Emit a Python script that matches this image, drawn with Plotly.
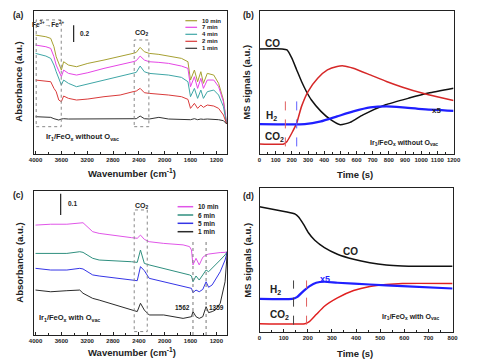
import plotly.graph_objects as go

W, H = 482, 362
FONT = "Liberation Sans, Arial, sans-serif"

# ---------------- data: panel (a) ----------------
wn_a = [4000, 3840, 3765, 3715, 3680, 3640, 3600, 3565, 3490, 3365, 3190, 2940, 2690, 2490,
        2440, 2380, 2315, 2240, 2090, 1940, 1740, 1640, 1600, 1540, 1490, 1440, 1400, 1340,
        1240, 1165, 1090, 1040]
a_10min = [1.428, 1.408, 1.388, 1.288, 1.168, 1.088, 1.008, 1.108, 1.068, 1.048, 1.088, 1.128,
           1.168, 1.208, 1.220, 1.280, 1.228, 1.208, 1.196, 1.176, 1.148, 1.108, 0.888, 1.008,
           0.868, 0.988, 0.848, 0.968, 0.948, 0.848, 0.648, 0.360]
a_7min = [1.308, 1.288, 1.268, 1.168, 1.068, 0.988, 0.928, 1.008, 0.968, 0.948, 0.976, 1.028,
          1.068, 1.108, 1.120, 1.176, 1.128, 1.108, 1.100, 1.088, 1.056, 1.028, 0.808, 0.928,
          0.788, 0.908, 0.788, 0.888, 0.888, 0.808, 0.628, 0.360]
a_4min = [1.208, 1.176, 1.148, 1.068, 0.988, 0.908, 0.828, 0.888, 0.848, 0.808, 0.840, 0.888,
          0.928, 0.968, 0.980, 1.056, 0.988, 0.968, 0.960, 0.948, 0.920, 0.868, 0.688, 0.788,
          0.668, 0.768, 0.668, 0.748, 0.768, 0.708, 0.568, 0.360]
a_2min = [0.888, 0.880, 0.868, 0.788, 0.748, 0.648, 0.628, 0.696, 0.668, 0.648, 0.660, 0.688,
          0.708, 0.748, 0.756, 0.788, 0.736, 0.728, 0.720, 0.708, 0.688, 0.656, 0.548, 0.608,
          0.548, 0.588, 0.560, 0.588, 0.576, 0.548, 0.468, 0.360]
a_1min = [0.448, 0.444, 0.440, 0.424, 0.416, 0.408, 0.420, 0.424, 0.420, 0.420, 0.424, 0.420,
          0.420, 0.420, 0.424, 0.456, 0.424, 0.420, 0.440, 0.420, 0.420, 0.420, 0.412, 0.424,
          0.412, 0.420, 0.416, 0.420, 0.416, 0.412, 0.400, 0.360]
names_a = ["10 min", "7 min", "4 min", "2 min", "1 min"]
colors_a = ["#a6a032", "#e545e5", "#3fa6a6", "#d93a3a", "#333333"]

# ---------------- data: panel (c) ----------------
wn_c = [4000, 3765, 3515, 3315, 3265, 3115, 3015, 2515, 2425, 2375, 2315, 2240, 2015, 1715,
        1615, 1585, 1562, 1515, 1465, 1410, 1359, 1320, 1265, 1215, 1140, 1065, 1030]
c_10min = [0.516, 0.520, 0.520, 0.527, 0.527, 0.485, 0.477, 0.457, 0.454, 0.469, 0.449, 0.438,
           0.430, 0.423, 0.415, 0.399, 0.329, 0.360, 0.329, 0.365, 0.376, 0.380, 0.383, 0.383,
           0.387, 0.388, 0.391]
c_6min = [0.383, 0.383, 0.383, 0.391, 0.388, 0.360, 0.352, 0.344, 0.341, 0.399, 0.336, 0.329,
          0.313, 0.290, 0.282, 0.277, 0.250, 0.277, 0.258, 0.282, 0.305, 0.297, 0.313, 0.329,
          0.352, 0.376, 0.391]
c_5min = [0.313, 0.305, 0.305, 0.313, 0.310, 0.282, 0.277, 0.258, 0.255, 0.321, 0.302, 0.266,
          0.250, 0.230, 0.224, 0.219, 0.199, 0.211, 0.203, 0.214, 0.250, 0.224, 0.235, 0.258,
          0.297, 0.352, 0.391]
c_1min = [0.211, 0.203, 0.208, 0.211, 0.196, 0.172, 0.164, 0.117, 0.110, 0.149, 0.117, 0.094,
          0.094, 0.078, 0.083, 0.086, 0.110, 0.086, 0.078, 0.086, 0.133, 0.105, 0.110, 0.117,
          0.149, 0.250, 0.391]
names_c = ["10 min", "6 min", "5 min", "1 min"]
colors_c = ["#e055e8", "#2f8f7f", "#3535e6", "#2b2b2b"]

# ---------------- data: panel (b) ----------------
t_b_co = [0, 140, 170, 200, 230, 260, 290, 320, 380, 440, 500, 560, 640, 780, 925, 1045, 1200]
co_b = [73.5, 73.5, 72.8, 67.0, 58.8, 50.7, 43.7, 37.9, 29.8, 24.0, 20.5, 22.1, 27.4, 34.4,
        39.1, 42.6, 46.0]
t_b_co2 = [0, 150, 170, 200, 230, 260, 300, 360, 420, 480, 520, 580, 685, 785, 885, 1005, 1105, 1200]
co2_b = [7.0, 7.0, 8.8, 14.7, 21.6, 33.3, 43.7, 53.0, 58.8, 61.2, 61.6, 60.0, 55.3, 50.7, 46.7,
         42.6, 39.8, 37.4]
t_b_h2 = [0, 280, 380, 480, 580, 685, 785, 885, 1005, 1200]
h2_b = [20.9, 20.9, 22.8, 26.3, 29.8, 32.6, 33.3, 32.6, 31.4, 30.2]

# ---------------- data: panel (d) ----------------
t_d_co = [0, 54, 108, 148, 161, 182, 202, 229, 269, 323, 390, 457, 525, 592, 659, 800]
co_d = [87.0, 85.3, 83.5, 81.9, 80.0, 74.9, 69.1, 63.7, 58.6, 54.0, 50.5, 48.1, 46.5, 45.8, 45.6, 45.6]
t_d_h2 = [0, 135, 155, 182, 208, 235, 269, 323, 457, 592, 800]
h2_d = [23.0, 23.0, 24.2, 28.4, 31.9, 34.2, 34.9, 34.2, 33.0, 31.9, 30.2]
t_d_co2 = [0, 188, 208, 235, 269, 323, 390, 457, 525, 592, 800]
co2_d = [5.8, 5.8, 7.4, 12.1, 17.9, 23.7, 28.8, 31.6, 33.0, 33.7, 33.7]

ticks_wn = [4000, 3600, 3200, 2800, 2400, 2000, 1600, 1200]

fig = go.Figure()

for name, col, ys in zip(names_a, colors_a, [a_10min, a_7min, a_4min, a_2min, a_1min]):
    fig.add_trace(go.Scatter(x=wn_a, y=ys, mode="lines", name=name, showlegend=False,
                             line=dict(color=col, width=1), xaxis="x", yaxis="y"))
for name, col, ys in zip(names_c, colors_c, [c_10min, c_6min, c_5min, c_1min]):
    fig.add_trace(go.Scatter(x=wn_c, y=ys, mode="lines", name=name, showlegend=False,
                             line=dict(color=col, width=1), xaxis="x3", yaxis="y3"))

sp = dict(shape="spline", smoothing=0.5)
fig.add_trace(go.Scatter(x=t_b_co, y=co_b, mode="lines", name="CO", showlegend=False,
                         line=dict(color="#111111", width=1.5, **sp), xaxis="x2", yaxis="y2"))
fig.add_trace(go.Scatter(x=t_b_co2, y=co2_b, mode="lines", name="CO2", showlegend=False,
                         line=dict(color="#d62828", width=1.5, **sp), xaxis="x2", yaxis="y2"))
fig.add_trace(go.Scatter(x=t_b_h2, y=h2_b, mode="lines", name="H2", showlegend=False,
                         line=dict(color="#1f1fff", width=2.2, **sp), xaxis="x2", yaxis="y2"))
fig.add_trace(go.Scatter(x=t_d_co, y=co_d, mode="lines", name="CO", showlegend=False,
                         line=dict(color="#111111", width=1.5, **sp), xaxis="x4", yaxis="y4"))
fig.add_trace(go.Scatter(x=t_d_co2, y=co2_d, mode="lines", name="CO2", showlegend=False,
                         line=dict(color="#e02020", width=1.5, **sp), xaxis="x4", yaxis="y4"))
fig.add_trace(go.Scatter(x=t_d_h2, y=h2_d, mode="lines", name="H2", showlegend=False,
                         line=dict(color="#1f1fff", width=2.2, **sp), xaxis="x4", yaxis="y4"))


def px(x):
    return x / W


def py(y):
    return 1 - y / H


tickfont = dict(family=FONT, size=6, color="#222", weight="bold")
axbase = dict(showline=True, linecolor="#222", linewidth=1, mirror=True, showgrid=False,
              zeroline=False, ticks="inside", ticklen=3, tickcolor="#222", tickfont=tickfont)
yblank = dict(axbase, showticklabels=False, ticks="")

fig.update_layout(
    width=W, height=H, autosize=False, margin=dict(l=0, r=0, t=0, b=0),
    paper_bgcolor="white", plot_bgcolor="white", showlegend=False,
    font=dict(family=FONT, color="#222"),
    xaxis=dict(axbase, domain=[px(30), px(228)], range=[4020, 1030], tickvals=ticks_wn,
               minor=dict(ticks="inside", ticklen=2, dtick=200, tickcolor="#222"), anchor="y"),
    yaxis=dict(yblank, domain=[py(154), py(11)], range=[0, 1.717], anchor="x"),
    xaxis2=dict(axbase, domain=[px(261), px(460)], range=[0, 1200], dtick=100,
                minor=dict(ticks="inside", ticklen=2, dtick=50, tickcolor="#222"), anchor="y2"),
    yaxis2=dict(yblank, domain=[py(154), py(11)], range=[0, 100], anchor="x2"),
    xaxis3=dict(axbase, domain=[px(30), px(228)], range=[4020, 1030], tickvals=ticks_wn,
                minor=dict(ticks="inside", ticklen=2, dtick=200, tickcolor="#222"), anchor="y3"),
    yaxis3=dict(yblank, domain=[py(335), py(191)], range=[0, 0.676], anchor="x3"),
    xaxis4=dict(axbase, domain=[px(261), px(459)], range=[0, 800], dtick=100,
                minor=dict(ticks="inside", ticklen=2, dtick=50, tickcolor="#222"), anchor="y4"),
    yaxis4=dict(yblank, domain=[py(332), py(188)], range=[0, 100], anchor="x4"),
)

shapes = []
ann = []


def box(xr, yr, x0, x1, y0, y1):
    shapes.append(dict(type="rect", xref=xr, yref=yr, x0=x0, x1=x1, y0=y0, y1=y1,
                       line=dict(color="#888", width=1, dash="dot")))


def vline(xr, yr, x, y0, y1, color, dash="dash", width=1):
    shapes.append(dict(type="line", xref=xr, yref=yr, x0=x, x1=x, y0=y0, y1=y1,
                       line=dict(color=color, width=width, dash=dash)))


def text(s, x, y, xr="paper", yr="paper", size=8, xanchor="center", yanchor="middle",
         color="#222", angle=0, xshift=0):
    ann.append(dict(text=s, x=x, y=y, xref=xr, yref=yr, showarrow=False, xanchor=xanchor,
                    yanchor=yanchor, textangle=angle, xshift=xshift,
                    font=dict(family=FONT, size=size, color=color, weight="bold")))


# panel (a) decorations
box("x", "y", 3990, 3602, 0.328, 1.61)
box("x", "y", 2472, 2245, 0.328, 1.369)
vline("x", "y", 3410, 1.345, 1.545, "#222", dash="solid", width=1.2)
text("0.2", 3350, 1.45, "x", "y", size=6.5, xanchor="left")
text("Fe<sup>3+</sup>→Fe<sup>2+</sup>", 3800, 1.56, "x", "y", size=6.5)
text("CO<sub>2</sub>", 2355, 1.45, "x", "y", size=7)
text("Ir<sub>1</sub>/FeO<sub>x</sub> without O<sub>vac</sub>", 3870, 0.2, "x", "y", size=7.5,
     xanchor="left")

# panel (c) decorations
box("x3", "y3", 2472, 2270, 0.016, 0.587)
vline("x3", "y3", 1562, 0, 0.446, "#777", dash="dot")
vline("x3", "y3", 1359, 0, 0.446, "#777", dash="dot")
vline("x3", "y3", 3611, 0.563, 0.663, "#222", dash="solid", width=1.2)
text("0.1", 3530, 0.615, "x3", "y3", size=6.5, xanchor="left")
text("CO<sub>2</sub>", 2358, 0.606, "x3", "y3", size=7)
text("1562", 1562, 0.127, "x3", "y3", size=6.5, xanchor="right", xshift=-1)
text("1359", 1359, 0.127, "x3", "y3", size=6.5, xanchor="left", xshift=1)
text("Ir<sub>1</sub>/FeO<sub>x</sub> with O<sub>vac</sub>", 3985, 0.08, "x3", "y3", size=7.5,
     xanchor="left")

# panel (b) decorations
vline("x2", "y2", 160, 5.3, 37.9, "#e06060")
vline("x2", "y2", 230, 5.3, 37.9, "#6060ff")
text("CO", 20, 77.4, "x2", "y2", size=10, xanchor="left")
text("H<sub>2</sub>", 30, 26.3, "x2", "y2", size=10, xanchor="left")
text("CO<sub>2</sub>", 20, 11.9, "x2", "y2", size=10, xanchor="left")
text("x5", 1095, 30.2, "x2", "y2", size=8)
text("Ir<sub>1</sub>/FeO<sub>x</sub> without O<sub>vac</sub>", 895, 7.5, "x2", "y2", size=7)

# panel (d) decorations
vline("x4", "y4", 141, 5.1, 35.8, "#444")
vline("x4", "y4", 195, 5.1, 35.8, "#e06060")
text("CO", 376, 55.6, "x4", "y4", size=10)
text("H<sub>2</sub>", 34, 29.5, "x4", "y4", size=10, xanchor="left")
text("CO<sub>2</sub>", 34, 12.1, "x4", "y4", size=10, xanchor="left")
text("x5", 271, 37.0, "x4", "y4", size=9, color="#1f1fff")
text("Ir<sub>1</sub>/FeO<sub>x</sub> with O<sub>vac</sub>", 625, 10.5, "x4", "y4", size=7)

# manual legends (a) and (c)
rows_a = [20.7, 27.3, 34.3, 41.3, 48.3]
for name, col, r in zip(names_a, colors_a, rows_a):
    shapes.append(dict(type="line", xref="paper", yref="paper", x0=px(185), x1=px(197),
                       y0=py(r), y1=py(r), line=dict(color=col, width=1.2)))
    text(name, px(200), py(r), size=6, xanchor="left")
rows_c = [206.7, 215.0, 223.3, 231.7]
for name, col, r in zip(names_c, colors_c, rows_c):
    shapes.append(dict(type="line", xref="paper", yref="paper", x0=px(177), x1=px(193),
                       y0=py(r), y1=py(r), line=dict(color=col, width=1.5)))
    text(name, px(196), py(r), size=6.5, xanchor="left")

# panel letters and axis titles
text("(a)", px(14), py(15), size=8.5)
text("(b)", px(250), py(15), size=8.5)
text("(c)", px(14), py(195), size=8.5)
text("(d)", px(250), py(196), size=8.5)
text("Absorbance (a.u.)", px(14), py(82), size=9.5, angle=-90)
text("Absorbance (a.u.)", px(14), py(263), size=9.5, angle=-90)
text("MS signals (a.u.)", px(248), py(82), size=9.5, angle=-90)
text("MS signals (a.u.)", px(248), py(260), size=9.5, angle=-90)
text("Wavenumber (cm<sup>-1</sup>)", px(130), py(173), size=9.5)
text("Wavenumber (cm<sup>-1</sup>)", px(130), py(352), size=9.5)
text("Time (s)", px(359), py(175), size=9.5)
text("Time (s)", px(359), py(353), size=9.5)

fig.update_layout(shapes=shapes, annotations=ann)
fig.write_html("out.html", config={"displayModeBar": False},
               post_script="document.body.style.margin='0';document.body.style.overflow='hidden';")
